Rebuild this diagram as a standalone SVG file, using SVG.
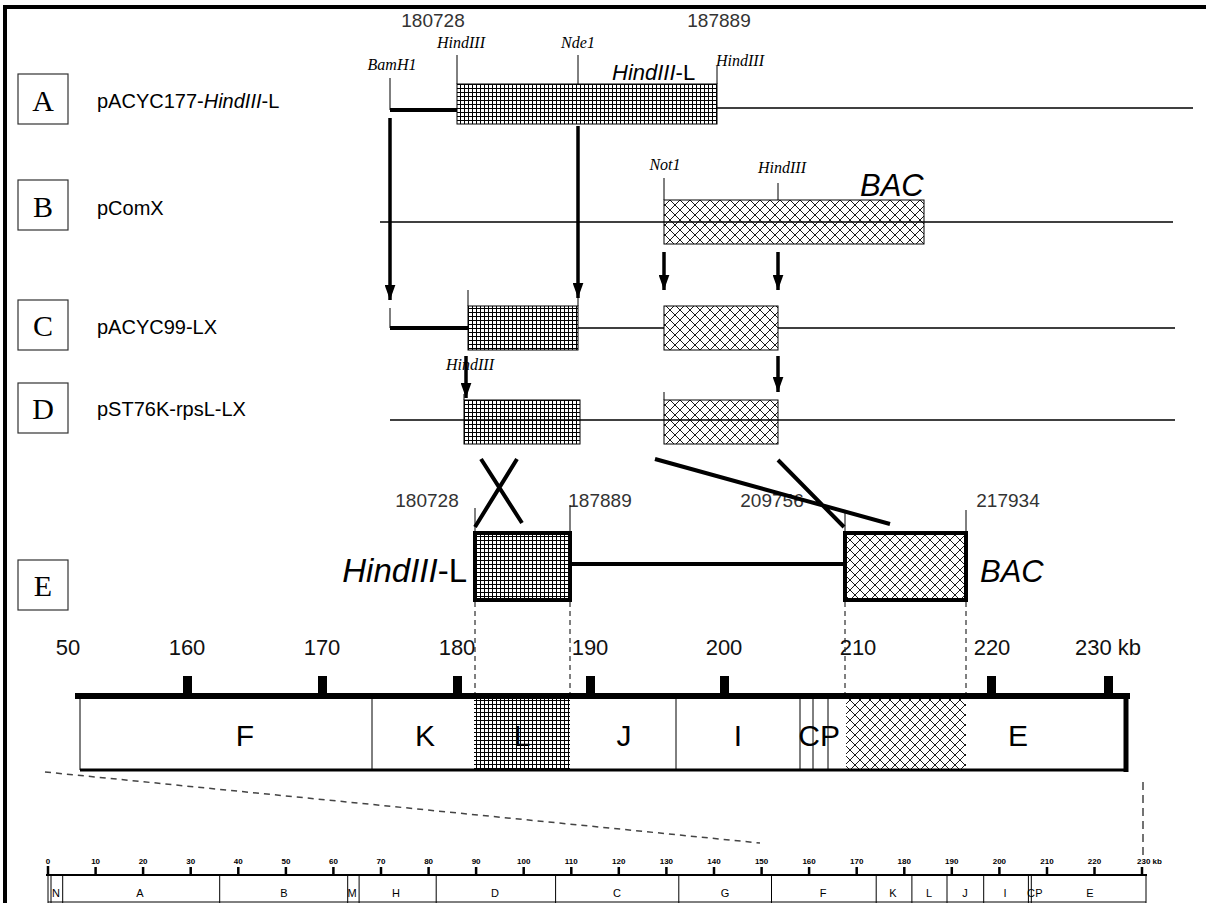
<svg xmlns="http://www.w3.org/2000/svg" width="1206" height="903" viewBox="0 0 1206 903">
<defs>
<pattern id="grid" width="4" height="4" patternUnits="userSpaceOnUse"><rect width="4" height="4" fill="#fff"/><path d="M0 0.5H4M0.5 0V4" stroke="#000" stroke-width="1"/></pattern>
<pattern id="xh" width="10" height="10" patternUnits="userSpaceOnUse"><rect width="10" height="10" fill="#fff"/><path d="M0 0L10 10M10 0L0 10" stroke="#000" stroke-width="0.9"/></pattern>
<marker id="ah" viewBox="0 0 14 10" refX="14" refY="5" markerWidth="15" markerHeight="11" markerUnits="userSpaceOnUse" orient="auto"><path d="M0 0L14 5L0 10z" fill="#000"/></marker>
</defs>
<style>
.lb{font-family:"Liberation Serif","Times New Roman",serif;font-size:30px;text-anchor:middle}
.nm{font-family:"Liberation Sans",Arial,sans-serif;font-size:20px}
.num{font-family:"Liberation Sans",Arial,sans-serif;font-size:19px;fill:#333;text-anchor:middle}
.re{font-family:"Liberation Serif","Times New Roman",serif;font-style:italic;font-size:16px}
.it{font-family:"Liberation Sans",Arial,sans-serif;font-style:italic}
.sc{font-family:"Liberation Sans",Arial,sans-serif;font-size:22px;fill:#111;text-anchor:middle}
.seg{font-family:"Liberation Sans",Arial,sans-serif;font-size:30px;text-anchor:middle}
.ss{font-family:"Liberation Sans",Arial,sans-serif;font-size:8px;font-weight:bold;text-anchor:middle}
.sl{font-family:"Liberation Sans",Arial,sans-serif;font-size:11px;text-anchor:middle}
.box{fill:#fff;stroke:#333;stroke-width:1.2}
.thin{stroke:#000;stroke-width:1.3;fill:none}
.thick{stroke:#000;stroke-width:4;fill:none}
.arr{stroke:#000;stroke-width:3.5;fill:none;marker-end:url(#ah)}
.tk{stroke:#000;stroke-width:1;fill:none}
.dash{stroke:#000;stroke-width:1;stroke-dasharray:5,4;fill:none}
</style>
<!-- frame -->
<path d="M3 7H1206M5 5V903" stroke="#000" stroke-width="4" fill="none"/>

<g id="row-A">
<rect class="box" x="18" y="74" width="50" height="50"/>
<text class="lb" x="43" y="111">A</text>
<text class="nm" x="97" y="108">pACYC177-<tspan font-style="italic">HindIII</tspan>-L</text>
<text class="num" x="433" y="27">180728</text>
<text class="num" x="719" y="27">187889</text>
<text class="re" x="392" y="70" text-anchor="middle">BamH1</text>
<text class="re" x="461" y="48" text-anchor="middle">HindIII</text>
<text class="re" x="578" y="48" text-anchor="middle">Nde1</text>
<text class="re" x="716" y="66">HindIII</text>
<text class="it" x="612" y="80" font-size="22">HindIII<tspan font-style="normal">-L</tspan></text>
<path class="tk" d="M390 78V110M457 55V84M578 55V84M717 66V84"/>
<path class="thick" d="M390 110H457"/>
<rect x="457" y="84" width="260" height="40" fill="url(#grid)" stroke="#000" stroke-width="1"/>
<path class="thin" d="M717 108H1193"/>
</g>

<g id="row-B">
<rect class="box" x="18" y="180" width="50" height="50"/>
<text class="lb" x="43" y="217">B</text>
<text class="nm" x="97" y="215">pComX</text>
<text class="re" x="665" y="170" text-anchor="middle">Not1</text>
<text class="re" x="782" y="173" text-anchor="middle">HindIII</text>
<text class="it" x="860" y="196" font-size="31">BAC</text>
<path class="tk" d="M664 178V200M778 183V200"/>
<rect x="664" y="200" width="260" height="44" fill="url(#xh)" stroke="#000" stroke-width="1"/>
<path class="thin" d="M380 222H1173"/>
</g>

<g id="row-C">
<rect class="box" x="18" y="300" width="50" height="50"/>
<text class="lb" x="43" y="336">C</text>
<text class="nm" x="97" y="334">pACYC99-LX</text>
<path class="tk" d="M390 308V328M468 290V306M578 298V306"/>
<path class="thick" d="M390 328H468"/>
<path class="thin" d="M578 328H664M778 328H1175"/>
<rect x="468" y="306" width="110" height="44" fill="url(#grid)" stroke="#000" stroke-width="1"/>
<rect x="664" y="306" width="114" height="44" fill="url(#xh)" stroke="#000" stroke-width="1"/>
</g>

<g id="row-D">
<rect class="box" x="18" y="383" width="50" height="50"/>
<text class="lb" x="43" y="419">D</text>
<text class="nm" x="97" y="416">pST76K-rpsL-LX</text>
<text class="re" x="470" y="370" text-anchor="middle">HindIII</text>
<path class="tk" d="M464 394V400M664 392V400"/>
<rect x="464" y="400" width="116" height="44" fill="url(#grid)" stroke="#000" stroke-width="1"/>
<rect x="664" y="400" width="114" height="44" fill="url(#xh)" stroke="#000" stroke-width="1"/>
<path class="thin" d="M390 420H1175"/>
</g>

<g id="row-E">
<rect class="box" x="18" y="560" width="50" height="50"/>
<text class="lb" x="43" y="596">E</text>
<text class="num" x="427" y="507">180728</text>
<text class="num" x="600" y="507">187889</text>
<text class="num" x="772" y="507">209756</text>
<text class="num" x="1008" y="507">217934</text>
<path class="tk" d="M475 508V533M570 505V533M845 510V533M966 510V533"/>
<text class="it" x="467" y="582" font-size="33" text-anchor="end">HindIII<tspan font-style="normal">-L</tspan></text>
<text class="it" x="980" y="582" font-size="31">BAC</text>
<path class="thick" d="M570 564H845"/>
<rect x="475" y="533" width="95" height="67" fill="url(#grid)" stroke="#000" stroke-width="4"/>
<rect x="845" y="533" width="121" height="67" fill="url(#xh)" stroke="#000" stroke-width="4"/>
<path class="dash" d="M475 602V697M570 602V697M845 602V697M966 602V697"/>
</g>

<g id="connectors">
<path class="arr" d="M390 118V300"/>
<path class="arr" d="M578 126V298"/>
<path class="arr" d="M664 252V290"/>
<path class="arr" d="M778 252V290"/>
<path class="arr" d="M466 356V398"/>
<path class="arr" d="M778 356V392"/>
<path class="thick" d="M475 527L517 459M481 459L522 523"/>
<path class="thick" d="M655 459L890 524M778 460L844 527"/>
</g>

<g id="scale-main">
<text class="sc" x="68" y="655" text-anchor="start">50</text>
<text class="sc" x="187" y="655">160</text>
<text class="sc" x="322" y="655">170</text>
<text class="sc" x="457" y="655">180</text>
<text class="sc" x="590" y="655">190</text>
<text class="sc" x="724" y="655">200</text>
<text class="sc" x="858" y="655">210</text>
<text class="sc" x="992" y="655">220</text>
<text class="sc" x="1108" y="655" text-anchor="start">230 kb</text>
<g fill="#000"><rect x="183" y="676" width="9" height="20"/><rect x="318" y="676" width="9" height="20"/><rect x="453" y="676" width="9" height="20"/><rect x="586" y="676" width="9" height="20"/><rect x="720" y="676" width="9" height="20"/><rect x="987" y="676" width="9" height="20"/><rect x="1104" y="676" width="9" height="20"/></g>
<rect x="474" y="698" width="96" height="73" fill="url(#grid)"/>
<rect x="846" y="698" width="120" height="72" fill="url(#xh)"/>
<path d="M80 697V770M372 697V770M676 697V770M800 697V770M813 697V770M828 697V770" stroke="#000" stroke-width="1" fill="none"/>
<path d="M75 696H1130" stroke="#000" stroke-width="6"/>
<path d="M80 770H1128" stroke="#000" stroke-width="3"/>
<path d="M1126 693V772" stroke="#000" stroke-width="5"/>
<text class="seg" x="245" y="746">F</text>
<text class="seg" x="425" y="746">K</text>
<text class="seg" x="522" y="746">L</text>
<text class="seg" x="624" y="746">J</text>
<text class="seg" x="738" y="746">I</text>
<text class="seg" x="809" y="746">C</text>
<text class="seg" x="830" y="746">P</text>
<text class="seg" x="1018" y="746">E</text>
<path d="M45 772L760 843" stroke="#444" stroke-width="1.5" stroke-dasharray="6,5" fill="none"/>
<path d="M1143 782V856" stroke="#444" stroke-width="1.5" stroke-dasharray="8,5" fill="none"/>
</g>

<g id="scale-small">
<g class="ss">
<text x="48" y="864">0</text><text x="95.6" y="864">10</text><text x="143.1" y="864">20</text><text x="190.7" y="864">30</text><text x="238.3" y="864">40</text><text x="285.9" y="864">50</text><text x="333.4" y="864">60</text><text x="381" y="864">70</text><text x="428.6" y="864">80</text><text x="476.1" y="864">90</text><text x="523.7" y="864">100</text><text x="571.3" y="864">110</text><text x="618.8" y="864">120</text><text x="666.4" y="864">130</text><text x="714" y="864">140</text><text x="761.6" y="864">150</text><text x="809.1" y="864">160</text><text x="856.7" y="864">170</text><text x="904.3" y="864">180</text><text x="951.8" y="864">190</text><text x="999.4" y="864">200</text><text x="1047" y="864">210</text><text x="1094.5" y="864">220</text><text x="1137" y="864" text-anchor="start">230 kb</text>
</g>
<path d="M48 866V875M95.6 867V875M143.1 867V875M190.7 867V875M238.3 867V875M285.9 867V875M333.4 867V875M381 867V875M428.6 867V875M476.1 867V875M523.7 867V875M571.3 867V875M618.8 867V875M666.4 867V875M714 867V875M761.6 867V875M809.1 867V875M856.7 867V875M904.3 867V875M951.8 867V875M999.4 867V875M1047 867V875M1094.5 867V875M1142 867V875" stroke="#000" stroke-width="2.5"/>
<path d="M46 875H1147" stroke="#000" stroke-width="2"/>
<path d="M48 875V903M51 875V903M62.7 875V903M219.7 875V903M347.7 875V903M359.1 875V903M436.2 875V903M555.6 875V903M678.8 875V903M771.5 875V903M876.2 875V903M911.9 875V903M947 875V903M983.7 875V903M1028.4 875V903M1031.3 875V903M1146 875V903M48 902H1146" stroke="#000" stroke-width="1" fill="none"/>
<g class="sl">
<text x="56" y="897">N</text><text x="140" y="897">A</text><text x="284" y="897">B</text><text x="352" y="897">M</text><text x="396" y="897">H</text><text x="495" y="897">D</text><text x="617" y="897">C</text><text x="725" y="897">G</text><text x="823" y="897">F</text><text x="893" y="897">K</text><text x="929" y="897">L</text><text x="965" y="897">J</text><text x="1005" y="897">I</text><text x="1031" y="897">C</text><text x="1039" y="897">P</text><text x="1090" y="897">E</text>
</g>
</g>
</svg>
